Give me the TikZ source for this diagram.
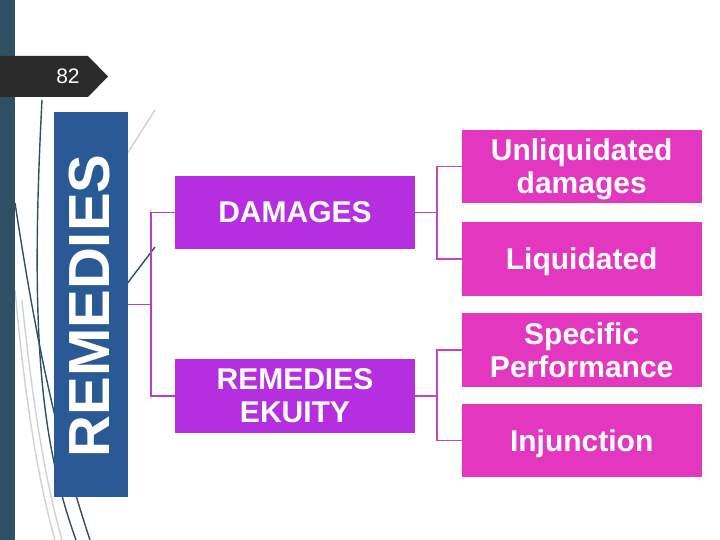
\documentclass[tikz,border=0pt]{standalone}
\usepackage{fontspec}
\setmainfont{Liberation Sans}
\begin{document}
\begin{tikzpicture}[x=1pt,y=-1pt,
  box/.style={draw=none,minimum width=240pt,minimum height=73.5pt,inner sep=0pt,text depth=0pt,align=center,text=white,font=\fontsize{30}{33}\selectfont\bfseries},
  midbox/.style={box,fill=purp},
  leafbox/.style={box,fill=pinkc},
  connl/.style={draw=connpurp,line width=1.7pt},
  connr/.style={draw=connpink,line width=1.7pt},
  wispdark/.style={draw=teal0,line width=1.4pt},
  wispgray/.style={draw=gray0,line width=1.4pt}]
\definecolor{teal0}{HTML}{2D5065}
\definecolor{tabcol}{HTML}{2B2B2B}
\definecolor{bluebox}{HTML}{2A5A95}
\definecolor{purp}{HTML}{B52FE0}
\definecolor{pinkc}{HTML}{E337C0}
\definecolor{connpurp}{HTML}{B240CC}
\definecolor{connpink}{HTML}{C845B8}
\definecolor{gray0}{HTML}{CDD2D5}
\useasboundingbox (0,0) rectangle (720,540);
\fill[white] (0,0) rectangle (720,540);
% decorative wisps
\draw[wispgray] (15,290) .. controls (25,400) and (38,480) .. (55,540);
\draw[wispgray] (22,300) .. controls (32,400) and (45,480) .. (62,540);
\draw[wispgray] (118,168) -- (155,110);
\draw[wispdark] (42,100) .. controls (30,330) and (40,440) .. (76,540);
\draw[wispdark] (15,203) .. controls (30,300) and (50,420) .. (90,540);
\draw[wispdark] (120,293) -- (155,247);
% left bar
\fill[teal0] (0,0) rectangle (15,540);
% tab
\fill[tabcol] (0,56) -- (88,56) -- (108,76.5) -- (88,97) -- (0,97) -- cycle;
\node[text=white,font=\fontsize{21}{23}\selectfont] (num) at (68,76.5) {82};
% blue box
\node[fill=bluebox,minimum width=74pt,minimum height=385pt,inner sep=0pt] (rem) at (91,304.5) {};
\node[rotate=90,text=white,font=\fontsize{58}{60}\selectfont\bfseries] (remt) at (90,306) {REMEDIES};
% middle boxes
\node[midbox] (dam) at (295,212.5) {DAMAGES};
\node[midbox] (eq) at (295,396) {REMEDIES\\EKUITY};
% leaves
\node[leafbox] (u) at (581.7,166.5) {Unliquidated\\damages};
\node[leafbox] (l) at (581.7,259) {Liquidated};
\node[leafbox] (s) at (581.7,350) {Specific\\Performance};
\node[leafbox] (i) at (581.7,440.5) {Injunction};
% connectors
\draw[connl] (rem.east) -- ++(23,0) coordinate (j1);
\draw[connl] (j1) |- (dam.west);
\draw[connl] (j1) |- (eq.west);
\draw[connr] (dam.east) -- ++(22,0) coordinate (j2);
\draw[connr] (j2) |- (u.west);
\draw[connr] (j2) |- (l.west);
\draw[connr] (eq.east) -- ++(22,0) coordinate (j3);
\draw[connr] (j3) |- (s.west);
\draw[connr] (j3) |- (i.west);
\end{tikzpicture}
\end{document}
